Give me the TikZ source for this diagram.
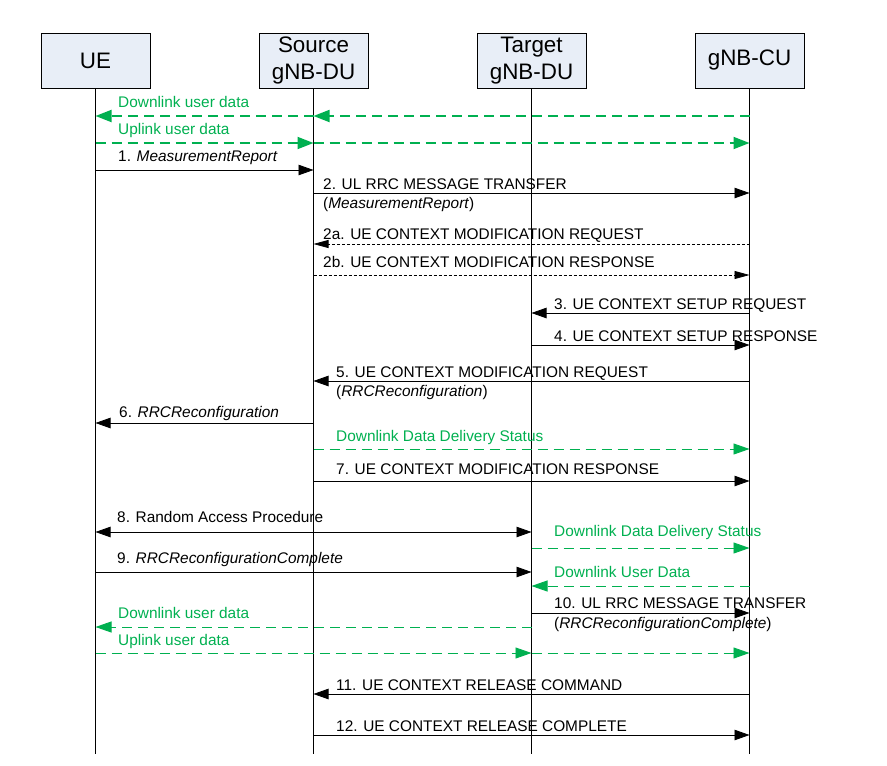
\documentclass[tikz,border=0pt]{standalone}
\usepackage{fontspec}
\setmainfont{Liberation Sans}
\usetikzlibrary{arrows.meta}

\definecolor{boxfill}{RGB}{232,238,247}
\definecolor{dgreen}{RGB}{0,176,80}

\begin{document}
\begin{tikzpicture}[x=1pt,y=-1pt,
  actor/.style={draw, line width=0.8pt, fill=boxfill, minimum width=109pt, minimum height=55pt, inner sep=0pt, align=center, font=\fontsize{22.4}{27}\selectfont},
  msg/.style={-{Triangle[length=15pt,width=10.5pt]}, line width=0.8pt},
  both/.style={{Triangle[length=15pt,width=10.5pt]}-{Triangle[length=15pt,width=10.5pt]}, line width=0.8pt},
  ctrl/.style={-{Triangle[length=15pt,width=8pt]}, line width=0.8pt, dash pattern=on 3pt off 2pt},
  udata/.style={dgreen, -{Triangle[length=16pt,width=12pt]}, line width=1.8pt, dash pattern=on 10pt off 6pt},
  status/.style={dgreen, -{Triangle[length=16pt,width=11pt]}, line width=0.9pt, dash pattern=on 10pt off 6pt},
  lbl/.style={anchor=base west, inner sep=0pt, font=\fontsize{15.4}{18}\selectfont},
  glbl/.style={lbl, text=dgreen}]
\useasboundingbox (0,0) rectangle (887,766);

% entities
\node[actor] (ue)  at (95.5,60.5)  {UE};
\node[actor] (src) at (313.5,60.5) {Source\\gNB-DU};
\node[actor] (tgt) at (531.5,60.5) {Target\\gNB-DU};
\node[actor] (cu)  at (749.5,60.5) {gNB-CU};

\foreach \n in {ue,src,tgt,cu}
\draw[line width=0.8pt] (\n.south) -- (\n.south |- 0,754);

% user plane before handover
\draw[udata] (cu |- 0,116) -- (src |- 0,116);
\draw[udata] (src |- 0,116) -- (ue |- 0,116);
\node[glbl] (dl1) at (118,107) {Downlink user data};
\draw[udata] (ue |- 0,143) -- (src |- 0,143);
\draw[udata] (src |- 0,143) -- (cu |- 0,143);
\node[glbl] (ul1) at (118,134) {Uplink user data};

% messages
\draw[msg] (ue |- 0,170) -- (src |- 0,170);
\node[lbl] (m1) at (118,161) {1. \textit{MeasurementReport}};

\draw[msg] (src |- 0,193) -- (cu |- 0,193);
\node[lbl] (m2) at (323,189) {2. UL RRC MESSAGE TRANSFER};
\node[lbl] (m2b) at ([yshift=-19pt]m2.base west) {(\textit{MeasurementReport})};

\draw[ctrl] (cu |- 0,244) -- (src |- 0,244);
\node[lbl] (m2a) at (323,239) {2a. UE CONTEXT MODIFICATION REQUEST};
\draw[ctrl] (src |- 0,275) -- (cu |- 0,275);
\node[lbl] (m2c) at (323,267) {2b. UE CONTEXT MODIFICATION RESPONSE};

\draw[msg] (cu |- 0,313) -- (tgt |- 0,313);
\node[lbl] (m3) at (554,309) {3. UE CONTEXT SETUP REQUEST};
\draw[msg] (tgt |- 0,345) -- (cu |- 0,345);
\node[lbl] (m4) at (554,341) {4. UE CONTEXT SETUP RESPONSE};

\draw[msg] (cu |- 0,381) -- (src |- 0,381);
\node[lbl] (m5) at (336,377) {5. UE CONTEXT MODIFICATION REQUEST};
\node[lbl] (m5b) at ([yshift=-19pt]m5.base west) {(\textit{RRCReconfiguration})};

\draw[msg] (src |- 0,423) -- (ue |- 0,423);
\node[lbl] (m6) at (119,417) {6. \textit{RRCReconfiguration}};

\draw[status] (src |- 0,449) -- (cu |- 0,449);
\node[glbl] (st1) at (336,441) {Downlink Data Delivery Status};

\draw[msg] (src |- 0,481) -- (cu |- 0,481);
\node[lbl] (m7) at (336,474) {7. UE CONTEXT MODIFICATION RESPONSE};

\draw[both] (ue |- 0,532) -- (tgt |- 0,532);
\node[lbl] (m8) at (117,522) {8. Random Access Procedure};

\draw[status] (tgt |- 0,548) -- (cu |- 0,548);
\node[glbl] (st2) at (554,536) {Downlink Data Delivery Status};

\draw[msg] (ue |- 0,572) -- (tgt |- 0,572);
\node[lbl] (m9) at (117,563) {9. \textit{RRCReconfigurationComplete}};

\draw[status] (cu |- 0,586) -- (tgt |- 0,586);
\node[glbl] (dl2) at (554,577) {Downlink User Data};

\draw[msg] (tgt |- 0,613) -- (cu |- 0,613);
\node[lbl] (m10) at (554,608) {10. UL RRC MESSAGE TRANSFER};
\node[lbl] (m10b) at ([yshift=-20pt]m10.base west) {(\textit{RRCReconfigurationComplete})};

% user plane after handover
\draw[status] (tgt |- 0,627) -- (ue |- 0,627);
\node[glbl] (dl3) at (118,618) {Downlink user data};
\draw[status] (ue |- 0,653) -- (tgt |- 0,653);
\draw[status] (tgt |- 0,653) -- (cu |- 0,653);
\node[glbl] (ul3) at (118,645) {Uplink user data};

\draw[msg] (cu |- 0,694) -- (src |- 0,694);
\node[lbl] (m11) at (336,690) {11. UE CONTEXT RELEASE COMMAND};
\draw[msg] (src |- 0,735) -- (cu |- 0,735);
\node[lbl] (m12) at (336,731) {12. UE CONTEXT RELEASE COMPLETE};

\end{tikzpicture}
\end{document}
